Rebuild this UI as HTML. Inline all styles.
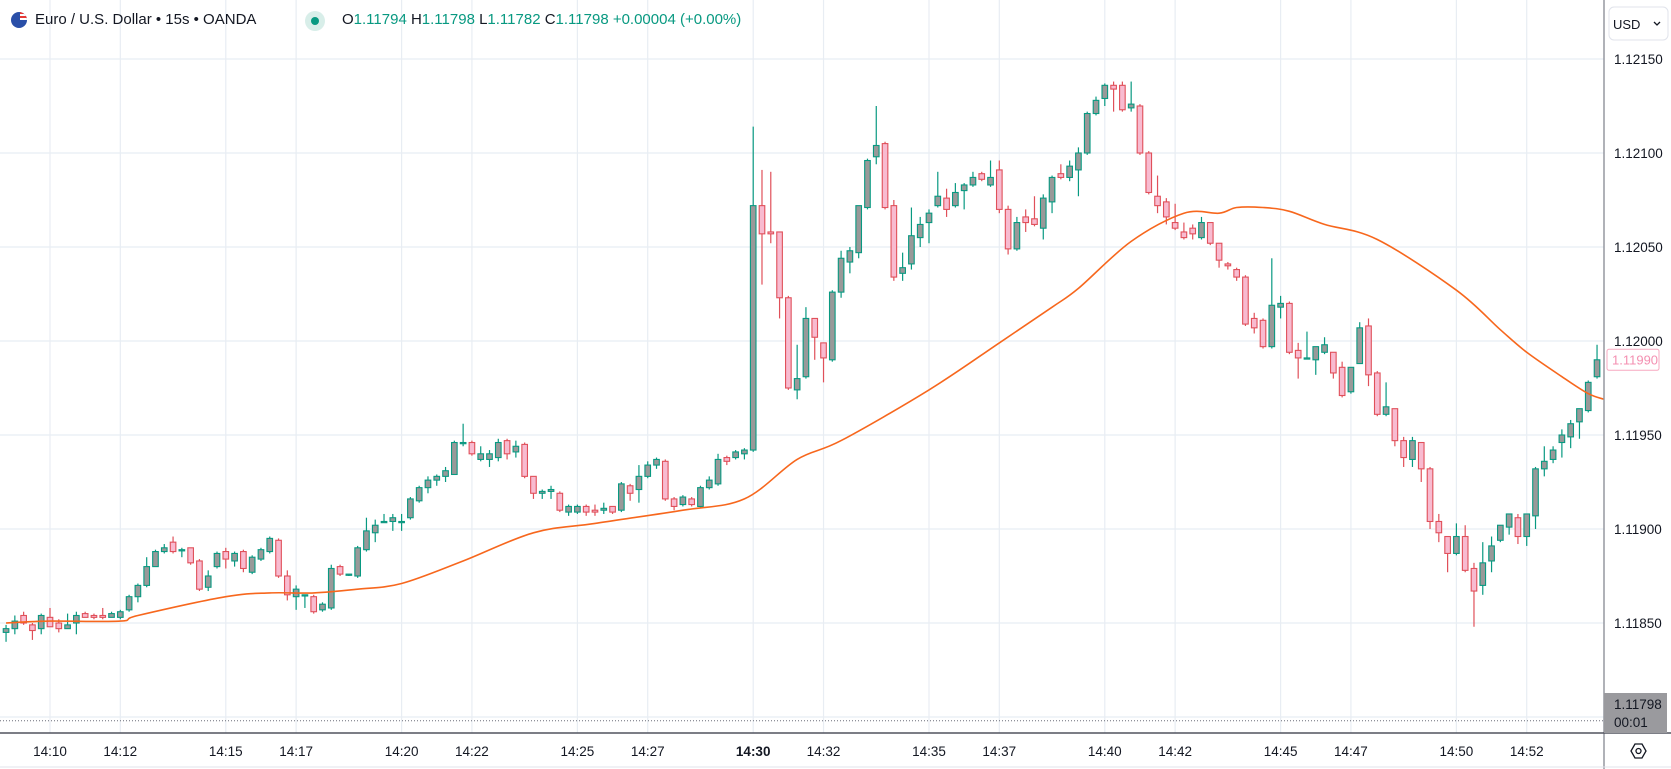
<!DOCTYPE html>
<html><head><meta charset="utf-8">
<style>
html,body{margin:0;padding:0;background:#fff;width:1671px;height:769px;overflow:hidden;font-family:"Liberation Sans",Arial,sans-serif;}
#wrap{position:relative;width:1671px;height:769px;}
svg{position:absolute;left:0;top:0;}
</style></head>
<body>
<div id="wrap">
<svg id="chart" width="1671" height="769"></svg>
</div>
<script>
// ---- data (price values) ----
const opens = [1.11845,1.11847,1.11854,1.11849,1.11847,1.11853,1.11850,1.11847,1.11850,1.11855,1.11854,1.11854,1.11853,1.11853,1.11857,1.11864,1.11870,1.11880,1.11888,1.11893,1.11889,1.11890,1.11883,1.11869,1.11880,1.11888,1.11883,1.11888,1.11877,1.11884,1.11888,1.11894,1.11875,1.11864,1.11865,1.11864,1.11857,1.11858,1.11880,1.11876,1.11875,1.11889,1.11898,1.11904,1.11904,1.11904,1.11906,1.11915,1.11922,1.11926,1.11928,1.11929,1.11946,1.11946,1.11937,1.11937,1.11938,1.11947,1.11941,1.11945,1.11928,1.11919,1.11920,1.11919,1.11909,1.11909,1.11912,1.11910,1.11910,1.11912,1.11910,1.11923,1.11921,1.11928,1.11934,1.11936,1.11916,1.11913,1.11916,1.11912,1.11922,1.11924,1.11938,1.11938,1.11940,1.11942,1.12072,1.12058,1.12058,1.12023,1.11974,1.11981,1.12012,1.11999,1.11990,1.12026,1.12042,1.12047,1.12071,1.12098,1.12105,1.12072,1.12036,1.12041,1.12055,1.12063,1.12072,1.12076,1.12072,1.12080,1.12083,1.12089,1.12083,1.12091,1.12070,1.12049,1.12066,1.12065,1.12060,1.12074,1.12089,1.12087,1.12091,1.12100,1.12121,1.12129,1.12136,1.12136,1.12124,1.12125,1.12100,1.12077,1.12074,1.12063,1.12058,1.12060,1.12055,1.12063,1.12052,1.12041,1.12038,1.12034,1.12012,1.12011,1.11997,1.12018,1.12020,1.11995,1.11991,1.11990,1.11994,1.11994,1.11986,1.11973,1.11988,1.12008,1.11983,1.11961,1.11964,1.11947,1.11937,1.11946,1.11932,1.11904,1.11896,1.11887,1.11896,1.11879,1.11870,1.11883,1.11894,1.11901,1.11906,1.11896,1.11907,1.11932,1.11937,1.11946,1.11949,1.11957,1.11963,1.11981];
const highs = [1.11849,1.11854,1.11856,1.11850,1.11855,1.11858,1.11852,1.11855,1.11856,1.11856,1.11855,1.11858,1.11856,1.11857,1.11865,1.11871,1.11885,1.11889,1.11892,1.11896,1.11890,1.11890,1.11884,1.11878,1.11888,1.11890,1.11888,1.11889,1.11886,1.11890,1.11896,1.11895,1.11878,1.11870,1.11865,1.11865,1.11861,1.11881,1.11881,1.11876,1.11891,1.11906,1.11905,1.11908,1.11908,1.11908,1.11917,1.11923,1.11928,1.11929,1.11933,1.11947,1.11956,1.11947,1.11944,1.11942,1.11948,1.11948,1.11947,1.11946,1.11928,1.11921,1.11923,1.11920,1.11913,1.11913,1.11913,1.11913,1.11914,1.11912,1.11925,1.11924,1.11934,1.11936,1.11938,1.11937,1.11917,1.11918,1.11917,1.11923,1.11928,1.11940,1.11939,1.11942,1.11943,1.12114,1.12091,1.12090,1.12058,1.12024,1.11998,1.12018,1.12012,1.11999,1.12027,1.12048,1.12050,1.12072,1.12097,1.12125,1.12106,1.12075,1.12047,1.12071,1.12066,1.12070,1.12090,1.12081,1.12084,1.12084,1.12090,1.12090,1.12096,1.12096,1.12072,1.12066,1.12070,1.12077,1.12078,1.12088,1.12094,1.12096,1.12103,1.12122,1.12130,1.12137,1.12138,1.12138,1.12138,1.12126,1.12101,1.12088,1.12076,1.12073,1.12063,1.12062,1.12066,1.12063,1.12052,1.12042,1.12039,1.12035,1.12015,1.12012,1.12044,1.12024,1.12021,1.11999,1.12005,1.11997,1.12002,1.11994,1.11989,1.11986,1.12010,1.12012,1.11984,1.11978,1.11964,1.11949,1.11949,1.11946,1.11933,1.11908,1.11896,1.11903,1.11902,1.11882,1.11893,1.11896,1.11902,1.11908,1.11908,1.11908,1.11933,1.11944,1.11944,1.11953,1.11958,1.11964,1.11979,1.11998];
const lows = [1.11840,1.11844,1.11849,1.11841,1.11844,1.11848,1.11845,1.11847,1.11844,1.11853,1.11852,1.11852,1.11853,1.11852,1.11856,1.11861,1.11869,1.11880,1.11887,1.11887,1.11885,1.11881,1.11867,1.11867,1.11879,1.11879,1.11880,1.11877,1.11876,1.11883,1.11887,1.11874,1.11862,1.11857,1.11858,1.11855,1.11856,1.11857,1.11875,1.11875,1.11874,1.11888,1.11893,1.11904,1.11899,1.11899,1.11905,1.11914,1.11919,1.11923,1.11925,1.11929,1.11944,1.11939,1.11936,1.11933,1.11936,1.11937,1.11938,1.11927,1.11916,1.11916,1.11916,1.11909,1.11907,1.11908,1.11907,1.11907,1.11908,1.11908,1.11909,1.11915,1.11914,1.11927,1.11932,1.11915,1.11910,1.11912,1.11912,1.11911,1.11921,1.11923,1.11934,1.11937,1.11937,1.11941,1.12030,1.12052,1.12012,1.11974,1.11969,1.11980,1.11990,1.11978,1.11989,1.12023,1.12036,1.12044,1.12070,1.12094,1.12070,1.12032,1.12032,1.12038,1.12050,1.12052,1.12071,1.12066,1.12071,1.12070,1.12082,1.12085,1.12082,1.12068,1.12046,1.12048,1.12058,1.12061,1.12054,1.12068,1.12086,1.12085,1.12077,1.12099,1.12120,1.12125,1.12122,1.12122,1.12122,1.12099,1.12078,1.12068,1.12062,1.12059,1.12054,1.12054,1.12054,1.12051,1.12039,1.12038,1.12032,1.12008,1.12004,1.11996,1.11996,1.12012,1.11993,1.11980,1.11991,1.11982,1.11993,1.11980,1.11970,1.11972,1.11988,1.11976,1.11960,1.11960,1.11944,1.11933,1.11933,1.11925,1.11900,1.11893,1.11877,1.11886,1.11877,1.11848,1.11865,1.11877,1.11893,1.11897,1.11892,1.11891,1.11900,1.11928,1.11935,1.11938,1.11943,1.11948,1.11962,1.11980];
const closes = [1.11847,1.11851,1.11850,1.11846,1.11854,1.11848,1.11847,1.11849,1.11854,1.11853,1.11853,1.11853,1.11855,1.11856,1.11864,1.11870,1.11880,1.11888,1.11890,1.11888,1.11889,1.11882,1.11868,1.11875,1.11887,1.11884,1.11887,1.11879,1.11885,1.11889,1.11895,1.11875,1.11865,1.11868,1.11865,1.11856,1.11860,1.11879,1.11876,1.11876,1.11890,1.11899,1.11902,1.11904,1.11906,1.11904,1.11916,1.11922,1.11926,1.11928,1.11931,1.11946,1.11946,1.11940,1.11940,1.11940,1.11946,1.11940,1.11944,1.11928,1.11919,1.11920,1.11921,1.11910,1.11912,1.11912,1.11909,1.11909,1.11911,1.11909,1.11924,1.11919,1.11928,1.11934,1.11937,1.11916,1.11912,1.11917,1.11913,1.11922,1.11926,1.11937,1.11936,1.11941,1.11942,1.12072,1.12057,1.12057,1.12023,1.11975,1.11980,1.12012,1.12002,1.11991,1.12026,1.12044,1.12048,1.12072,1.12096,1.12104,1.12071,1.12034,1.12039,1.12056,1.12062,1.12068,1.12077,1.12070,1.12079,1.12083,1.12087,1.12086,1.12087,1.12070,1.12049,1.12063,1.12063,1.12062,1.12076,1.12087,1.12087,1.12093,1.12100,1.12121,1.12128,1.12136,1.12134,1.12123,1.12126,1.12100,1.12079,1.12072,1.12066,1.12060,1.12055,1.12057,1.12063,1.12052,1.12043,1.12040,1.12034,1.12009,1.12007,1.11997,1.12019,1.12020,1.11994,1.11991,1.11991,1.11997,1.11998,1.11983,1.11971,1.11986,1.12007,1.11982,1.11961,1.11965,1.11947,1.11938,1.11947,1.11932,1.11904,1.11898,1.11887,1.11896,1.11878,1.11867,1.11882,1.11891,1.11902,1.11908,1.11896,1.11908,1.11932,1.11936,1.11942,1.11950,1.11956,1.11964,1.11978,1.11990];
const emaIdx = [0,5,13,15,25,30,35,40,45,52,60,67,77,84,90,95,105,113,119,122,128,134,138,140,143,146,150,156,165,170,173,177,180,181.8];
const emaVals = [1.11850,1.11851,1.11851,1.11854,1.11864,1.11866,1.11866,1.11868,1.11871,1.11883,1.11898,1.11903,1.11910,1.11916,1.11937,1.11947,1.11974,1.11999,1.12018,1.12028,1.12053,1.12068,1.12068,1.12071,1.12071,1.12069,1.12062,1.12054,1.12027,1.12006,1.11994,1.11981,1.11972,1.11969];
const priceTicks = [1.12150,1.12100,1.12050,1.12000,1.11950,1.11900,1.11850];
const gridOnlyTicks = [1.11800];
const timeLabels = ['14:10','14:12','14:15','14:17','14:20','14:22','14:25','14:27','14:30','14:32','14:35','14:37','14:40','14:42','14:45','14:47','14:50','14:52'];
const timeIdx = [5,13,25,33,45,53,65,73,85,93,105,113,125,133,145,153,165,173];
const currentPrice = 1.11798;

// ---- scales ----
const PLOT_R = 1604, AXIS_Y = 733;
function yScale(p){ return 341 + (1.12 - p) * 188000; }
function xScale(k){ return 6.05 + 8.79 * k; }

const NS = 'http://www.w3.org/2000/svg';
const svg = document.getElementById('chart');
function mk(tag, attrs, parent){
  const e = document.createElementNS(NS, tag);
  for (const a in attrs) e.setAttribute(a, attrs[a]);
  (parent || svg).appendChild(e);
  return e;
}

// grid
const grid = mk('g', {});


priceTicks.concat(gridOnlyTicks).forEach(p => {
  const l = mk('line', {x1:0, x2:PLOT_R, y1:yScale(p), y2:yScale(p), stroke:'#e8edf3', 'stroke-width':1.2}, grid);
  
  
});
timeIdx.forEach(k => {
  const l = mk('line', {x1:xScale(k), x2:xScale(k), y1:0, y2:AXIS_Y, stroke:'#e8edf3', 'stroke-width':1.2}, grid);
  
  
});

// current price dotted line
const cpl = mk('line', {x1:0, x2:PLOT_R, y1:yScale(currentPrice), y2:yScale(currentPrice), stroke:'#6a6d78', 'stroke-width':1, 'stroke-dasharray':'1,2'});



// candles
const cg = mk('g', {});


for (let k = 0; k < opens.length; k++){
  const bull = closes[k] >= opens[k];
  const stroke = bull ? '#089981' : '#e0505a';
  const fill = bull ? '#999999' : '#f8bbd0';
  const x = xScale(k);
  const g = mk('g', {}, cg);
  
  
  mk('line', {x1:x, x2:x, y1:yScale(highs[k]), y2:yScale(lows[k]), stroke:stroke, 'stroke-width':1.2}, g);
  const top = yScale(Math.max(opens[k], closes[k]));
  const bot = yScale(Math.min(opens[k], closes[k]));
  mk('rect', {x:x-2.8, y:top, width:5.6, height:Math.max(1.2, bot-top), fill:fill, stroke:stroke, 'stroke-width':1.1}, g);
}

// EMA line (smoothed Catmull-Rom through read points)
const pts = emaIdx.map((k, i) => [xScale(k), yScale(emaVals[i])]);
let d = 'M' + pts[0][0].toFixed(1) + ',' + pts[0][1].toFixed(1);
for (let i = 0; i < pts.length - 1; i++){
  const p0 = pts[Math.max(0, i-1)], p1 = pts[i], p2 = pts[i+1], p3 = pts[Math.min(pts.length-1, i+2)];
  const c1x = p1[0] + (p2[0]-p0[0])/6, c1y = p1[1] + (p2[1]-p0[1])/6;
  const c2x = p2[0] - (p3[0]-p1[0])/6, c2y = p2[1] - (p3[1]-p1[1])/6;
  d += 'C' + c1x.toFixed(1) + ',' + c1y.toFixed(1) + ' ' + c2x.toFixed(1) + ',' + c2y.toFixed(1) + ' ' + p2[0].toFixed(1) + ',' + p2[1].toFixed(1);
}
const ema = mk('path', {d:d, fill:'none', stroke:'#f7671d', 'stroke-width':1.6, 'stroke-linejoin':'round'});



// axes
const pa = mk('line', {x1:PLOT_R, x2:PLOT_R, y1:0, y2:769, stroke:'#9598a1', 'stroke-width':1.5});


const ta = mk('line', {x1:0, x2:1671, y1:AXIS_Y, y2:AXIS_Y, stroke:'#50535e', 'stroke-width':1.5});


const tb = mk('line', {x1:0, x2:1671, y1:767, y2:767, stroke:'#e0e3eb', 'stroke-width':1});



priceTicks.forEach(p => {
  const t = mk('text', {x:1614, y:yScale(p)+5, 'font-size':'13.5', fill:'#131722'});
  t.textContent = p.toFixed(5);
  
  
});
timeLabels.forEach((s, i) => {
  const t = mk('text', {x:xScale(timeIdx[i]), y:756, 'font-size':'13.5', fill:'#131722', 'text-anchor':'middle', 'font-weight': s === '14:30' ? 'bold' : 'normal'});
  t.textContent = s;
  
  
});

// last close label
const lc = closes[closes.length-1];
const lcg = mk('g', {});


mk('rect', {x:1607, y:yScale(lc)-10.5, width:52, height:21, fill:'#fff', stroke:'#f7a8c0', 'stroke-width':1, rx:2}, lcg);
const lct = mk('text', {x:1612, y:yScale(lc)+4.5, 'font-size':'13', fill:'#f48fb1'}, lcg);
lct.textContent = lc.toFixed(5);

// current price box
const cpg = mk('g', {});


mk('rect', {x:1604, y:693, width:63, height:40, fill:'#9a9a9e'}, cpg);
const cpt = mk('text', {x:1614, y:709, 'font-size':'13.5', fill:'#131722'}, cpg);
cpt.textContent = currentPrice.toFixed(5);
const cpt2 = mk('text', {x:1614, y:727, 'font-size':'13.5', fill:'#131722'}, cpg);
cpt2.textContent = '00:01';

// USD button
const ub = mk('g', {});


mk('rect', {x:1609, y:7, width:59, height:33, rx:5, fill:'#fff', stroke:'#e0e3eb'}, ub);
const ut = mk('text', {x:1613, y:29, 'font-size':'13', fill:'#131722'}, ub);
ut.textContent = 'USD';
mk('path', {d:'M1654,22 l3,3 l3,-3', fill:'none', stroke:'#131722', 'stroke-width':1.3}, ub);

// settings icon
const si = mk('g', {});


mk('path', {d:'M1631,751 l4,-7 h7 l4,7 l-4,7 h-7 z', fill:'none', stroke:'#131722', 'stroke-width':1.3}, si);
mk('circle', {cx:1638.5, cy:751, r:2.5, fill:'none', stroke:'#131722', 'stroke-width':1.3}, si);
</script>
<div style="position:absolute;left:0;top:10px;height:22px;display:flex;align-items:center;font-size:15px;color:#131722;white-space:nowrap;">
  <div style="position:absolute;left:11px;top:2px;width:16px;height:16px;border-radius:50%;background:#2a4fa8;overflow:hidden;">
    <div style="position:absolute;right:0;top:0;width:7px;height:8px;background:repeating-linear-gradient(#e53935 0 2px,#fff 2px 4px);"></div>
  </div>
  <span style="position:absolute;left:35px;top:1px;">Euro / U.S. Dollar • 15s • OANDA</span>
  <div style="position:absolute;left:305px;top:1px;width:20px;height:20px;border-radius:50%;background:#d8eee9;">
    <div style="position:absolute;left:6px;top:6px;width:8px;height:8px;border-radius:50%;background:#089981;"></div>
  </div>
  <span style="position:absolute;left:342px;top:1px;color:#089981;">
    <span style="color:#131722">O</span>1.11794 <span style="color:#131722">H</span>1.11798 <span style="color:#131722">L</span>1.11782 <span style="color:#131722">C</span>1.11798 +0.00004 (+0.00%)
  </span>
</div>
</body></html>
